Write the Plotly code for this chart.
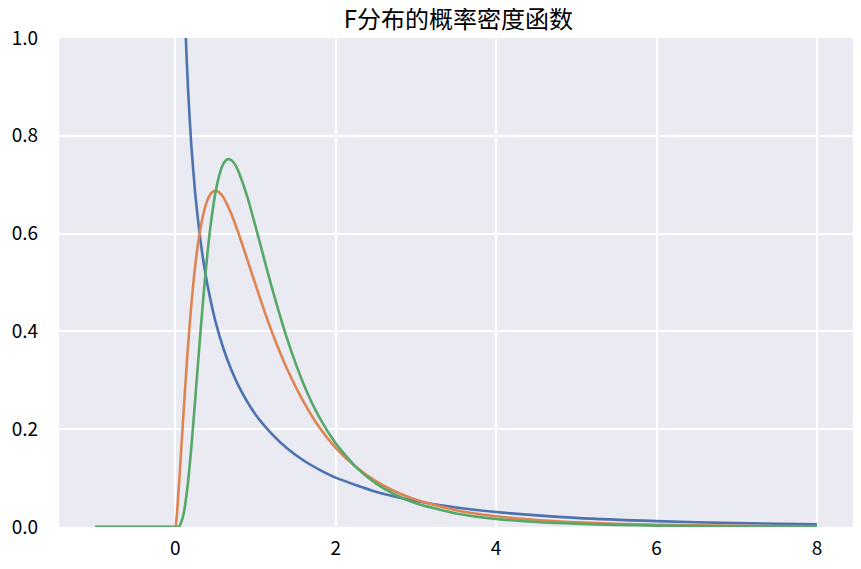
import plotly.graph_objects as go

# values
x_blue = [-1.0, -0.005, None, 0.02, 0.05, 0.08, 0.1, 0.13, 0.16, 0.2, 0.25, 0.3, 0.35, 0.4,
          0.5, 0.6, 0.7, 0.8, 1.0, 1.2, 1.4, 1.6, 1.8, 2.0, 2.5, 3.0, 3.5, 4.0, 5.0, 6.0, 7.0, 8.0]
y_blue = [0.0, 0.0, None, 2.721, 1.693, 1.317, 1.165, 1.005, 0.892, 0.780, 0.679, 0.604, 0.544, 0.496,
          0.421, 0.365, 0.321, 0.285, 0.230, 0.191, 0.160, 0.136, 0.117, 0.101, 0.0721, 0.0531, 0.0399,
          0.0306, 0.0187, 0.0120, 0.0079, 0.0054]

x_ow = [-1.0, -0.5, -0.1, 0.0, 0.01, 0.02, 0.03, 0.05, 0.1, 0.15, 0.2, 0.25, 0.3, 0.35, 0.4, 0.45,
        0.5, 0.55, 0.6, 0.65, 0.7, 0.75, 0.8, 0.9, 1.0, 1.1, 1.2, 1.4, 1.6, 1.8, 2.0, 2.25, 2.5, 2.75,
        3.0, 3.5, 4.0, 4.5, 5.0, 5.5, 6.0, 7.0, 8.0]
y_orange = [0.0, 0.0, 0.0, 0.0, 0.010, 0.027, 0.048, 0.096, 0.227, 0.350, 0.454, 0.536, 0.597, 0.640,
            0.668, 0.683, 0.688, 0.684, 0.674, 0.658, 0.640, 0.618, 0.595, 0.546, 0.496, 0.447, 0.401,
            0.321, 0.256, 0.203, 0.162, 0.123, 0.0936, 0.0720, 0.0558, 0.0344, 0.0219, 0.0143, 0.0096,
            0.0066, 0.0047, 0.0024, 0.0013]
y_green = [0.0, 0.0, 0.0, 0.0, 0.0, 0.0001, 0.0004, 0.002, 0.024, 0.079, 0.163, 0.264, 0.370, 0.470,
           0.558, 0.629, 0.683, 0.720, 0.743, 0.752, 0.750, 0.740, 0.722, 0.674, 0.615, 0.553, 0.492,
           0.382, 0.292, 0.223, 0.171, 0.123, 0.0892, 0.0655, 0.0487, 0.0278, 0.0165, 0.0102, 0.0065,
           0.0043, 0.0029, 0.0014, 0.0007]

font = "Noto Sans CJK SC"

fig = go.Figure()
for xs, ys, col in [(x_blue, y_blue, "#4C72B0"), (x_ow, y_orange, "#DD8452"), (x_ow, y_green, "#55A868")]:
    fig.add_trace(go.Scatter(x=xs, y=ys, mode="lines",
                             line=dict(color=col, width=2.6, shape="spline", smoothing=0.6)))

# page body adds an 8px offset, so the figure is a bit smaller than the window
fig.update_layout(
    width=853, height=561,
    margin=dict(l=51, r=8, t=30, b=42),
    paper_bgcolor="white", plot_bgcolor="#EAEAF2",
    showlegend=False,
    font=dict(family=font, size=19, color="black"),
    title=dict(text="F分布的概率密度函数", x=0.528, xanchor="center", y=0.98, yanchor="middle",
               font=dict(family=font, size=24, color="black")),
)
fig.update_xaxes(range=[-1.45, 8.45], tickvals=[0, 2, 4, 6, 8], showgrid=True, gridcolor="white",
                 gridwidth=1.6, zeroline=False, showline=False, ticks="", ticklabelstandoff=8,
                 automargin=False)
fig.update_yaxes(range=[0, 1], tickvals=[0, 0.2, 0.4, 0.6, 0.8, 1.0], tickformat=".1f",
                 showgrid=True, gridcolor="white", gridwidth=1.6, zeroline=False, showline=False,
                 ticks="", ticklabelstandoff=20, automargin=False)

fig.write_html("out.html")
